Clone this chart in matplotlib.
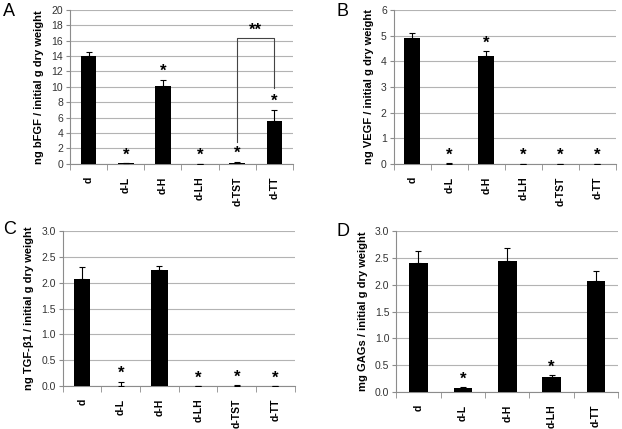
import matplotlib
matplotlib.use("Agg")
import matplotlib.pyplot as plt
import numpy as np

plt.rcParams["font.family"] = ["Liberation Sans", "DejaVu Sans"]

cats6 = ["d", "d-L", "d-H", "d-LH", "d-TST", "d-TT"]
cats5 = ["d", "d-L", "d-H", "d-LH", "d-TT"]

bfgf = [14.0, 0.05, 10.1, 0.03, 0.15, 5.6]
bfgf_err = [0.5, 0.0, 0.8, 0.0, 0.1, 1.4]
bfgf_star = [False, True, True, True, True, True]

vegf = [4.9, 0.01, 4.22, 0.01, 0.01, 0.01]
vegf_err = [0.18, 0.02, 0.18, 0.0, 0.0, 0.0]
vegf_star = [False, True, True, True, True, True]

tgf = [2.08, 0.005, 2.24, 0.005, 0.005, 0.005]
tgf_err = [0.22, 0.08, 0.09, 0.0, 0.01, 0.0]
tgf_star = [False, True, False, True, True, True]

gags = [2.40, 0.07, 2.44, 0.29, 2.07]
gags_err = [0.24, 0.02, 0.24, 0.03, 0.18]
gags_star = [False, True, False, True, False]

W, H = 622, 429
fig = plt.figure(figsize=(W / 100, H / 100), dpi=100, facecolor="white")

GRID = "#b3b3b3"
AXC = "#8c8c8c"


def panel(rect, cats, vals, errs, stars, ymax, ystep, ylabel, letter, letter_xy,
          fmt, star_off):
    ax = fig.add_axes(rect)
    x = np.arange(len(cats))
    ax.bar(x, vals, width=0.42, color="black", zorder=3)
    ax.errorbar(x, vals, yerr=[np.zeros(len(errs)), errs], fmt="none",
                ecolor="black", elinewidth=0.8, capsize=2.5, capthick=0.8, zorder=4)
    for xi, v, e, s in zip(x, vals, errs, stars):
        if s:
            ax.text(xi, v + e + star_off, "*", ha="center", va="bottom",
                    fontsize=12, fontweight="bold")
    ax.set_xlim(-0.5, len(cats) - 0.5)
    ax.set_ylim(0, ymax)
    ticks = np.arange(0, ymax + ystep / 2, ystep)
    ax.set_yticks(ticks)
    ax.set_yticklabels([fmt.format(t) for t in ticks], fontsize=7.5, color="#333333")
    ax.yaxis.grid(True, color=GRID, lw=0.8, zorder=0)
    ax.set_axisbelow(True)
    for s in ["top", "right"]:
        ax.spines[s].set_visible(False)
    for s in ["left", "bottom"]:
        ax.spines[s].set_color(AXC)
        ax.spines[s].set_linewidth(0.8)
    ax.tick_params(axis="y", length=3, color=AXC, pad=2)
    ax.set_xticks(x)
    ax.set_xticklabels(cats, rotation=90, fontsize=7.5, fontweight="bold")
    ax.tick_params(axis="x", length=0, pad=9)
    ax.set_xticks(np.arange(-0.5, len(cats) + 0.5, 1.0), minor=True)
    ax.tick_params(axis="x", which="minor", length=4, color=AXC)
    ax.set_ylabel(ylabel, fontsize=8, fontweight="bold", labelpad=5)
    fig.text(letter_xy[0] / W, 1 - letter_xy[1] / H, letter, fontsize=13,
             va="center", ha="left")
    return ax


axA = panel([0.1125, 0.618, 0.3585, 0.359], cats6, bfgf, bfgf_err, bfgf_star,
            20, 2, "ng bFGF / initial g dry weight", "A", (3, 12), "{:.0f}", 0.1)
# significance bracket between d-TST and d-TT
axA.plot([4, 4, 5, 5], [2.8, 16.3, 16.3, 9.8], color="#444444", lw=0.8, zorder=5)
axA.text(4.5, 16.4, "**", ha="center", va="bottom", fontsize=12, fontweight="bold")

panel([0.633, 0.618, 0.357, 0.359], cats6, vegf, vegf_err, vegf_star,
      6, 1, "ng VEGF / initial g dry weight", "B", (336, 11), "{:.0f}", 0.02)

panel([0.101, 0.100, 0.373, 0.361], cats6, tgf, tgf_err, tgf_star,
      3.0, 0.5, "ng TGF-\u03b21 / initial g dry weight", "C", (3, 229), "{:.1f}", 0.01)

panel([0.637, 0.086, 0.357, 0.375], cats5, gags, gags_err, gags_star,
      3.0, 0.5, "mg GAGs / initial g dry weight", "D", (336, 231), "{:.1f}", 0.01)

fig.savefig("out.png", dpi=100)
